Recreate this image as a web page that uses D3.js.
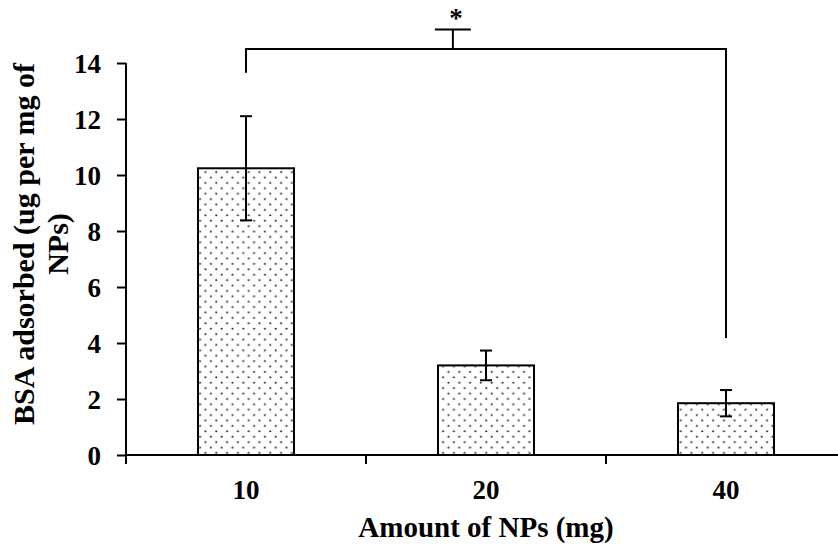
<!DOCTYPE html>
<html>
<head>
<meta charset="utf-8">
<script src="https://cdn.jsdelivr.net/npm/d3@7"></script>
<style>
  html, body { margin: 0; padding: 0; background: #fff; }
  svg { display: block; }
  text { font-family: "Liberation Serif", "Times New Roman", serif; font-weight: bold; fill: #000; }
</style>
</head>
<body>
<div id="chart"></div>
<script>
// ---- data ----
const categories = ["10", "20", "40"];
const values = [10.24, 3.2, 1.85];
const errors = [1.86, 0.53, 0.47];
const yTicks = [0, 2, 4, 6, 8, 10, 12, 14];
const xTitle = "Amount of NPs (mg)";
const yTitleLines = ["BSA adsorbed (ug per mg of", "NPs)"];
// significance bracket (data units)
const bracketFrom = "10";
const bracketTo = "40";
const bracketLevel = 14.5;
const bracketLeftEnd = 13.65;
const bracketRightEnd = 4.18;
const bracketMarkTop = 15.2;
const bracketMarkPos = 0.431; // fraction between the two categories
const sigLabel = "*";

// ---- layout ----
const W = 838, H = 549;
const x0 = 126, x1 = 846, yBottom = 455, yTop = 63;

const svg = d3.select("#chart").append("svg").attr("width", W).attr("height", H);

const x = d3.scaleBand().domain(categories).range([x0, x1]).paddingInner(0).paddingOuter(0);
const y = d3.scaleLinear().domain([0, 14]).range([yBottom, yTop]);

// pattern (staggered dots)
const defs = svg.append("defs");
const pat = defs.append("pattern").attr("id", "dots").attr("patternUnits", "userSpaceOnUse")
  .attr("width", 10.8).attr("height", 10.8).attr("x", 3).attr("y", 2);
pat.append("rect").attr("width", 10.8).attr("height", 10.8).attr("fill", "#fff");
pat.append("circle").attr("cx", 2.7).attr("cy", 2.7).attr("r", 1.1).attr("fill", "#333");
pat.append("circle").attr("cx", 8.1).attr("cy", 8.1).attr("r", 1.1).attr("fill", "#333");

const bw = x.bandwidth() * 0.4;

// bars
svg.append("g").selectAll("rect").data(categories).join("rect")
  .attr("x", d => x(d) + x.bandwidth() / 2 - bw / 2)
  .attr("y", (d, i) => y(values[i]))
  .attr("width", bw)
  .attr("height", (d, i) => y(0) - y(values[i]))
  .attr("fill", "url(#dots)")
  .attr("stroke", "#000").attr("stroke-width", 2);

// error bars
const eg = svg.append("g").attr("stroke", "#000").attr("stroke-width", 2);
categories.forEach((c, i) => {
  const cx = x(c) + x.bandwidth() / 2;
  const hi = y(values[i] + errors[i]), lo = y(values[i] - errors[i]);
  eg.append("line").attr("x1", cx).attr("x2", cx).attr("y1", hi).attr("y2", lo);
  eg.append("line").attr("x1", cx - 6).attr("x2", cx + 6).attr("y1", hi).attr("y2", hi);
  eg.append("line").attr("x1", cx - 6).attr("x2", cx + 6).attr("y1", lo).attr("y2", lo);
});

// y axis
const yAxis = svg.append("g").attr("transform", `translate(${x0},0)`)
  .call(d3.axisLeft(y).tickValues(yTicks).tickSize(9).tickPadding(16).tickFormat(d3.format("d")));
yAxis.select(".domain").attr("stroke", "#000").attr("stroke-width", 2).attr("d", `M0,${yTop}V${yBottom}`);
yAxis.selectAll(".tick line").attr("stroke", "#000").attr("stroke-width", 2);
yAxis.selectAll(".tick text").attr("font-size", 27).attr("font-family", '"Liberation Serif", "Times New Roman", serif').attr("font-weight", "bold").attr("dy", "0.34em");

// x axis
const xAxis = svg.append("g").attr("transform", `translate(0,${yBottom})`)
  .call(d3.axisBottom(x).tickSize(0).tickPadding(25));
xAxis.select(".domain").attr("stroke", "#000").attr("stroke-width", 2).attr("d", `M${x0},0H${x1}`);
xAxis.selectAll(".tick text").attr("font-size", 27).attr("font-family", '"Liberation Serif", "Times New Roman", serif').attr("font-weight", "bold");
// boundary ticks
const bounds = categories.map(c => x(c)).concat([x(categories[categories.length - 1]) + x.bandwidth()]);
xAxis.selectAll(".btick").data(bounds).join("line").attr("class", "btick")
  .attr("x1", d => d).attr("x2", d => d).attr("y1", 0).attr("y2", 9)
  .attr("stroke", "#000").attr("stroke-width", 2);

// axis titles
svg.append("text").attr("x", x("20") + x.bandwidth() / 2).attr("y", 537)
  .attr("text-anchor", "middle").attr("font-size", 29).text(xTitle);

const yt = svg.append("text").attr("transform", "translate(34,244) rotate(-90)")
  .attr("text-anchor", "middle").attr("font-size", 30);
yTitleLines.forEach((l, i) => {
  yt.append("tspan").attr("x", 0).attr("y", i * 34).text(l);
});

// significance bracket
const bxL = x(bracketFrom) + x.bandwidth() / 2;
const bxR = x(bracketTo) + x.bandwidth() / 2;
const bxM = bxL + bracketMarkPos * (bxR - bxL);
const bg = svg.append("g").attr("stroke", "#000").attr("stroke-width", 2).attr("fill", "none");
bg.append("path").attr("d",
  `M${bxL},${y(bracketLeftEnd)}V${y(bracketLevel)}H${bxR}V${y(bracketRightEnd)}`);
bg.append("line").attr("x1", bxM).attr("x2", bxM).attr("y1", y(bracketLevel)).attr("y2", y(bracketMarkTop));
bg.append("line").attr("x1", bxM - 18).attr("x2", bxM + 18).attr("y1", y(bracketMarkTop)).attr("y2", y(bracketMarkTop));
svg.append("text").attr("x", bxM + 3).attr("y", 27).attr("text-anchor", "middle")
  .attr("font-size", 27).text(sigLabel);
</script>
</body>
</html>
